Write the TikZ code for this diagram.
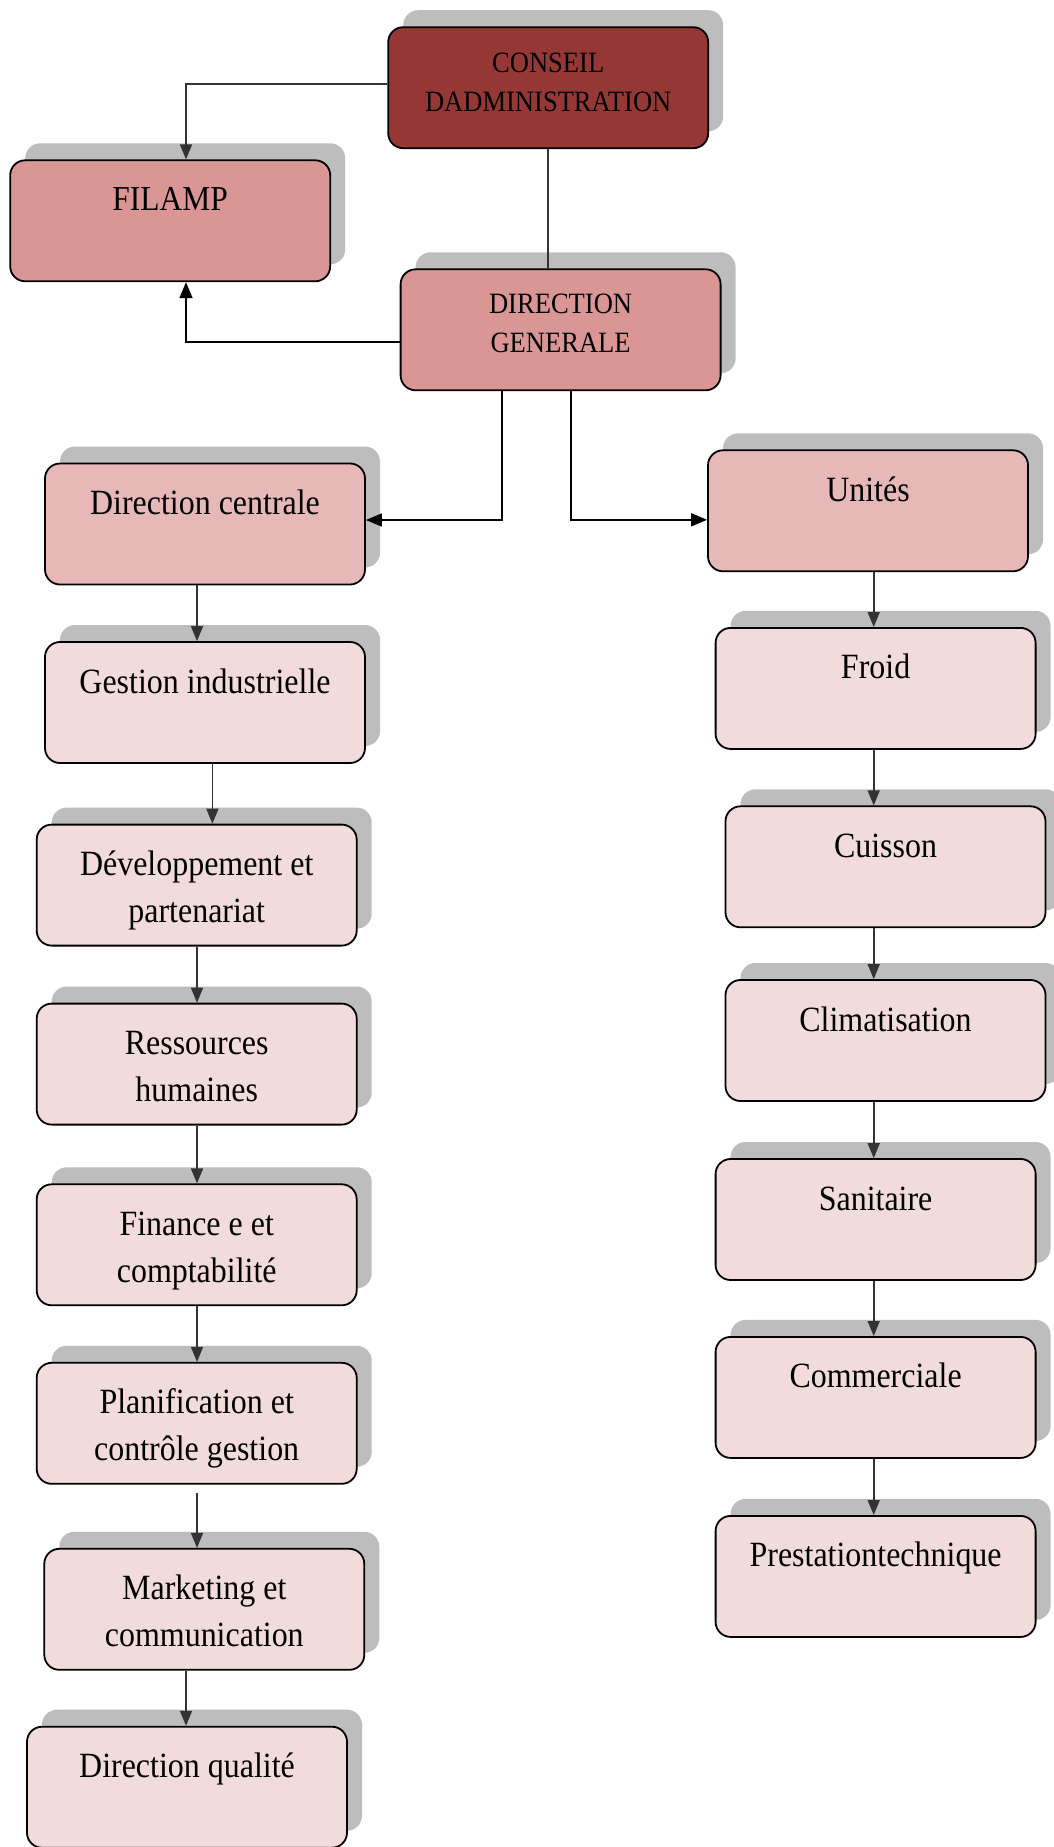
\documentclass[tikz,border=0pt]{standalone}
\usepackage{fontspec}
\setmainfont{Liberation Serif}[FakeStretch=0.9]
\usetikzlibrary{arrows.meta,shadows,calc}
\definecolor{cDark}{HTML}{953735}
\definecolor{cMid}{HTML}{D99694}
\definecolor{cLight}{HTML}{E6B9B8}
\definecolor{cPale}{HTML}{F2DCDB}
\definecolor{shadowgray}{HTML}{BDBDBD}
\definecolor{linegray}{HTML}{333333}
\newcommand\bt[2]{\parbox[c][121pt][t]{310pt}{\centering\rule{0pt}{#1pt}#2\par}}
\begin{document}
\begin{tikzpicture}[x=1pt,y=-1pt,
  box/.style={draw=black, line width=1.8pt, rounded corners=15pt,
    minimum width=320pt, minimum height=121pt, inner sep=0pt,
    font=\fontsize{35.5}{47}\selectfont,
    drop shadow={shadow xshift=15pt, shadow yshift=17pt, fill=shadowgray, opacity=1}},
  capsbox/.style={box, font=\fontsize{29.5}{39}\selectfont},
  conn/.style={draw=linegray, line width=1.6pt},
  gtip/.style={-{Triangle[length=15pt,width=12pt]}, conn},
  btip/.style={-{Triangle[length=16pt,width=13pt]}, draw=black, line width=1.8pt}
]
\clip (0,0) rectangle (1054,1847);
\fill[white] (0,0) rectangle (1054,1847);

% top level
\node[capsbox, fill=cDark] (conseil) at (548.2,87.7) {\bt{45}{CONSEIL\\DADMINISTRATION}};
\node[box, fill=cMid, font=\fontsize{35}{47}\selectfont] (filamp) at (170.2,220.8) {\bt{50}{FILAMP}};
\node[capsbox, fill=cMid] (dg) at (560.6,329.8) {\bt{44}{DIRECTION\\GENERALE}};

% second level
\node[box, fill=cLight] (dc) at (205,524) {\bt{51}{Direction centrale}};
\node[box, fill=cLight] (unites) at (868,510.8) {\bt{51}{Unités}};

% left column
\node[box, fill=cPale] (gi) at (205,702.5) {\bt{51}{Gestion industrielle}};
\node[box, fill=cPale] (dev) at (196.7,885.1) {\bt{51}{Développement et\\partenariat}};
\node[box, fill=cPale] (rh) at (196.7,1064.1) {\bt{51}{Ressources\\humaines}};
\node[box, fill=cPale] (fin) at (196.7,1244.8) {\bt{51}{Finance e et\\comptabilité}};
\node[box, fill=cPale] (plan) at (196.7,1423.3) {\bt{51}{Planification et\\contrôle gestion}};
\node[box, fill=cPale] (mkt) at (204.3,1609.3) {\bt{51}{Marketing et\\communication}};
\node[box, fill=cPale] (dq) at (187,1787.2) {\bt{51}{Direction qualité}};

% right column
\node[box, fill=cPale] (froid) at (875.6,688.4) {\bt{51}{Froid}};
\node[box, fill=cPale] (cuisson) at (885.5,866.8) {\bt{51}{Cuisson}};
\node[box, fill=cPale] (clim) at (885.5,1040.5) {\bt{51}{Climatisation}};
\node[box, fill=cPale] (sanit) at (875.6,1219.5) {\bt{51}{Sanitaire}};
\node[box, fill=cPale] (comm) at (875.6,1397.4) {\bt{51}{Commerciale}};
\node[box, fill=cPale] (prest) at (875.6,1576.4) {\bt{51}{Prestationtechnique}};

% x positions of connectors
\coordinate (fx) at (186,0);
\coordinate (xa) at (502,0);
\coordinate (xb) at (571,0);
\coordinate (xL) at (197,0);
\coordinate (xG) at (212.4,0);
\coordinate (xQ) at (186,0);
\coordinate (xR) at (873.7,0);

% top connectors
\draw[gtip] ($(conseil.west)+(0,-4)$) -| (fx |- filamp.north);
\draw[conn] (conseil.south) -- (conseil.south |- dg.north);
\draw[btip] ($(dg.west)+(0,12)$) -| (fx |- filamp.south);
\draw[btip] (xa |- dg.south) |- ($(dc.east)+(0,-4)$);
\draw[btip] (xb |- dg.south) |- ($(unites.west)+(0,9)$);

% left chain
\draw[gtip] (xL |- dc.south) -- (xL |- gi.north);
\draw[gtip] (xG |- gi.south) -- (xG |- dev.north);
\draw[gtip] (xL |- dev.south) -- (xL |- rh.north);
\draw[gtip] (xL |- rh.south) -- (xL |- fin.north);
\draw[gtip] (xL |- fin.south) -- (xL |- plan.north);
\draw[gtip] ($(xL |- plan.south)+(0,8)$) -- (xL |- mkt.north);
\draw[gtip] (xQ |- mkt.south) -- (xQ |- dq.north);

% right chain
\draw[gtip] (xR |- unites.south) -- (xR |- froid.north);
\draw[gtip] (xR |- froid.south) -- (xR |- cuisson.north);
\draw[gtip] (xR |- cuisson.south) -- (xR |- clim.north);
\draw[gtip] (xR |- clim.south) -- (xR |- sanit.north);
\draw[gtip] (xR |- sanit.south) -- (xR |- comm.north);
\draw[gtip] (xR |- comm.south) -- (xR |- prest.north);
\end{tikzpicture}
\end{document}
